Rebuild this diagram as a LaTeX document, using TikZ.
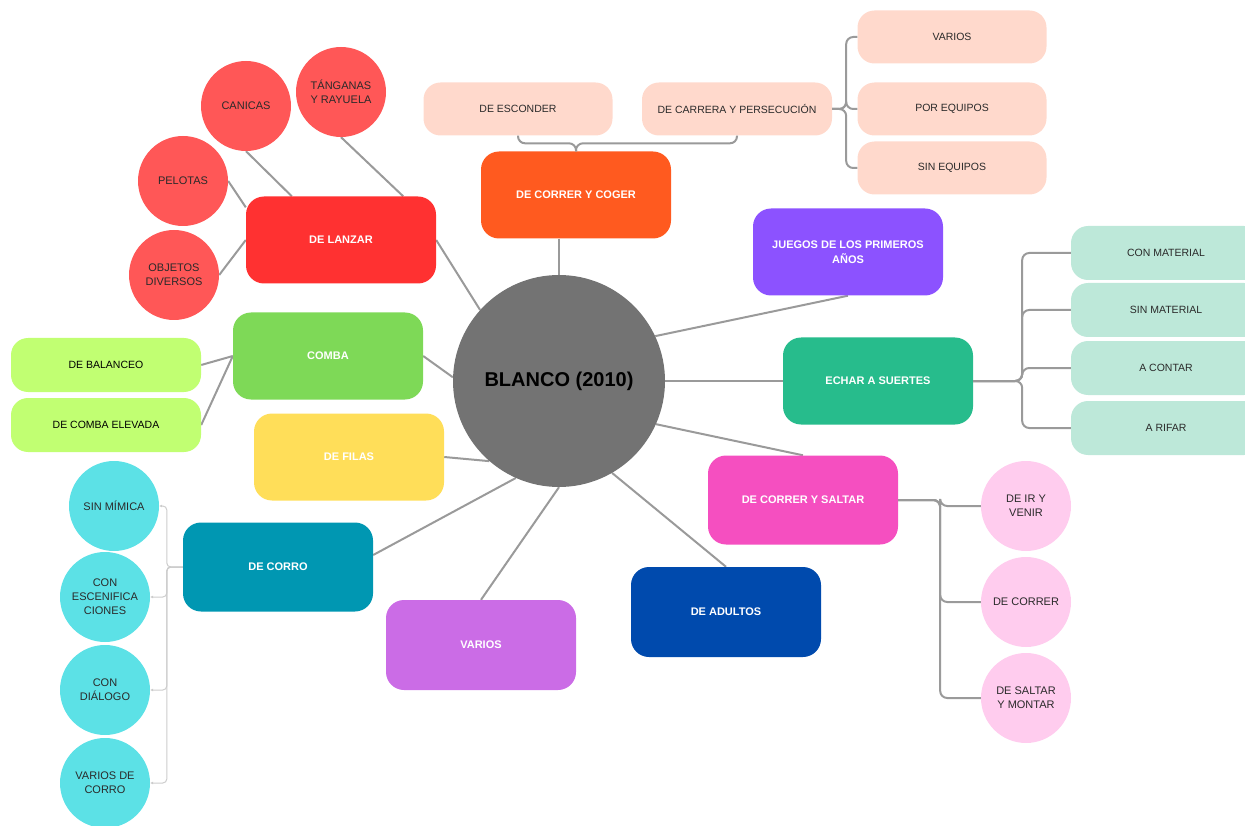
\documentclass[tikz,border=0pt]{standalone}
\usepackage{fontspec}
\setmainfont{Liberation Sans}
\usetikzlibrary{arrows.meta,backgrounds}
\definecolor{linie}{HTML}{9A9A9A}
\definecolor{grau}{HTML}{737373}
\definecolor{lanzarrot}{HTML}{FF3131}
\definecolor{cogerorange}{HTML}{FF5A1F}
\definecolor{juegoslila}{HTML}{8C52FF}
\definecolor{echargruen}{HTML}{27BC8C}
\definecolor{saltarpink}{HTML}{F54FC0}
\definecolor{adultosblau}{HTML}{004AAD}
\definecolor{varioslila}{HTML}{CB6CE6}
\definecolor{corroblau}{HTML}{0097B2}
\definecolor{filasgelb}{HTML}{FFDE59}
\definecolor{combagruen}{HTML}{7ED957}
\definecolor{limette}{HTML}{C1FF72}
\definecolor{pfirsich}{HTML}{FFD9CC}
\definecolor{minze}{HTML}{BDE8D9}
\definecolor{rosa}{HTML}{FFCCEE}
\definecolor{tuerkis}{HTML}{5CE1E6}
\definecolor{hellrot}{HTML}{FF5757}
\definecolor{schrift}{HTML}{2A2A2A}
\begin{document}
\begin{tikzpicture}[x=1pt, y=-1pt, >={Latex[length=3pt,width=3pt]}, %Pixelraster, y nach unten
	haupt/.style={rectangle, rounded corners=18pt, minimum width=190pt, minimum height=87pt, text=white, align=center, font=\bfseries\fontsize{11}{15}\selectfont},
	unter/.style={rectangle, rounded corners=17pt, minimum width=189pt, minimum height=53pt, text=schrift, font=\fontsize{10.5}{13}\selectfont},
	kreis/.style={circle, minimum size=90pt, inner sep=0pt, text=schrift, align=center, font=\fontsize{11}{14}\selectfont},
	ast/.style={draw=linie, line width=2pt},
	zweig/.style={draw=linie, line width=2pt, rounded corners=7pt},
	duenn/.style={draw=gray!40, line width=1pt, rounded corners=4pt, ->}]
	\clip (0,0) rectangle (1245,826);
	% Mitte
	\node[circle, fill=grau, minimum size=212pt, font=\bfseries\fontsize{20}{24}\selectfont] (blanco) at (559,381) {BLANCO (2010)};
	% Hauptzweige
	\node[haupt, fill=lanzarrot] (lanzar) at (341,240) {DE LANZAR};
	\node[haupt, fill=cogerorange] (coger) at (576,195) {DE CORRER Y COGER};
	\node[haupt, fill=juegoslila] (juegos) at (848,252) {JUEGOS DE LOS PRIMEROS\\AÑOS};
	\node[haupt, fill=echargruen] (echar) at (878,381) {ECHAR A SUERTES};
	\node[haupt, fill=saltarpink, minimum height=89pt] (saltar) at (803,500) {DE CORRER Y SALTAR};
	\node[haupt, fill=adultosblau, minimum height=90pt] (adultos) at (726,612) {DE ADULTOS};
	\node[haupt, fill=varioslila, minimum height=90pt] (varios) at (481,645) {VARIOS};
	\node[haupt, fill=corroblau, minimum height=89pt] (corro) at (278,567) {DE CORRO};
	\node[haupt, fill=filasgelb] (filas) at (349,457) {DE FILAS};
	\node[haupt, fill=combagruen] (comba) at (328,356) {COMBA};
	% De lanzar
	\node[kreis, fill=hellrot] (canicas) at (246,106) {CANICAS};
	\node[kreis, fill=hellrot] (tanganas) at (341,92) {TÁNGANAS\\Y RAYUELA};
	\node[kreis, fill=hellrot] (pelotas) at (183,181) {PELOTAS};
	\node[kreis, fill=hellrot] (objetos) at (174,275) {OBJETOS\\DIVERSOS};
	% De correr y coger
	\node[unter, fill=pfirsich] (esconder) at (518,109) {DE ESCONDER};
	\node[unter, fill=pfirsich, minimum width=190pt] (carrera) at (737,109) {DE CARRERA Y PERSECUCIÓN};
	\node[unter, fill=pfirsich] (variosb) at (952,37) {VARIOS};
	\node[unter, fill=pfirsich] (equipos) at (952,109) {POR EQUIPOS};
	\node[unter, fill=pfirsich] (sinequipos) at (952,168) {SIN EQUIPOS};
	% Echar a suertes
	\node[unter, fill=minze, minimum width=190pt, minimum height=54pt] (conmat) at (1166,253) {CON MATERIAL};
	\node[unter, fill=minze, minimum width=190pt, minimum height=54pt] (sinmat) at (1166,310) {SIN MATERIAL};
	\node[unter, fill=minze, minimum width=190pt, minimum height=54pt] (contar) at (1166,368) {A CONTAR};
	\node[unter, fill=minze, minimum width=190pt, minimum height=54pt] (rifar) at (1166,428) {A RIFAR};
	% Comba
	\node[unter, fill=limette, minimum width=190pt, minimum height=54pt, text=black] (balanceo) at (106,365) {DE BALANCEO};
	\node[unter, fill=limette, minimum width=190pt, minimum height=54pt, text=black] (elevada) at (106,425) {DE COMBA ELEVADA};
	% De corro
	\node[kreis, fill=tuerkis] (sinmimica) at (114,506) {SIN MÍMICA};
	\node[kreis, fill=tuerkis] (escenif) at (105,597) {CON\\ESCENIFICA\\CIONES};
	\node[kreis, fill=tuerkis] (dialogo) at (105,690) {CON\\DIÁLOGO};
	\node[kreis, fill=tuerkis] (varioscorro) at (105,783) {VARIOS DE\\CORRO};
	% De correr y saltar
	\node[kreis, fill=rosa] (iryvenir) at (1026,506) {DE IR Y\\VENIR};
	\node[kreis, fill=rosa] (correr) at (1026,602) {DE CORRER};
	\node[kreis, fill=rosa] (montar) at (1026,698) {DE SALTAR\\Y MONTAR};
	\begin{scope}[on background layer]
		\draw[ast] (lanzar.east) -- (blanco.138);
		\draw[ast] ([xshift=-17pt]coger.south) -- (blanco.90);
		\draw[ast] (juegos.south) -- (blanco.25);
		\draw[ast] (echar.west) -- (blanco.0);
		\draw[ast] (saltar.north) -- (blanco.336);
		\draw[ast] (adultos.north) -- (blanco.300);
		\draw[ast] (varios.north) -- (blanco.270);
		\draw[ast] ([yshift=12pt]corro.east) -- (blanco.246);
		\draw[ast] (filas.east) -- (blanco.229);
		\draw[ast] (comba.east) -- (blanco.178);
		\draw[ast] (canicas.south) -- ([xshift=46pt]lanzar.north west);
		\draw[ast] (tanganas.south) -- ([xshift=-33pt]lanzar.north east);
		\draw[ast] (pelotas.east) -- ([yshift=-11pt]lanzar.north west);
		\draw[ast] (objetos.east) -- (lanzar.west);
		\draw[ast] (balanceo.east) -- (comba.west);
		\draw[ast] (elevada.east) -- (comba.west);
	\end{scope}
	\draw[zweig] (coger.north) -- ++(0,-8) -| (esconder.south);
	\draw[zweig] (coger.north) -- ++(0,-8) -| (carrera.south);
	\foreach \ziel in {variosb, equipos, sinequipos}
		\draw[zweig] (carrera.east) -- ++(14,0) |- (\ziel.west);
	\foreach \ziel in {conmat, sinmat, contar, rifar}
		\draw[zweig] (echar.east) -- ++(49,0) |- (\ziel.west);
	\foreach \ziel in {iryvenir, correr, montar}
		\draw[zweig] (saltar.east) -- ++(42,0) |- (\ziel.west);
	\foreach \ziel in {sinmimica, escenif, dialogo, varioscorro}
		\draw[duenn] (corro.west) -- ++(-16,0) |- (\ziel.east);
\end{tikzpicture}
\end{document}
